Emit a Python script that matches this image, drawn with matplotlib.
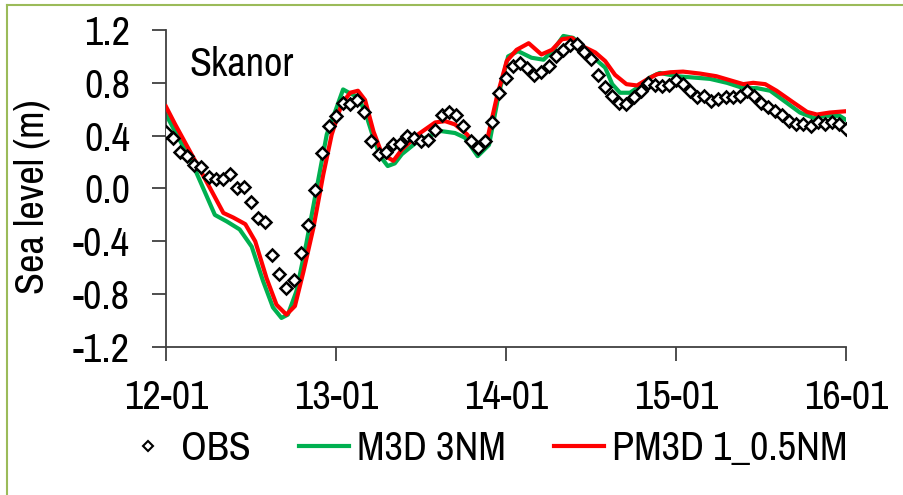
import matplotlib
matplotlib.use("Agg")
import matplotlib.pyplot as plt
from matplotlib.lines import Line2D
import numpy as np

# --- data -------------------------------------------------------------
station = "Skanor"
date_labels = ["12-01", "13-01", "14-01", "15-01", "16-01"]

# hourly observed sea level (m), hour 0 = 12-01 00:00
obs_hours = np.arange(0, 97)
obs_level = [
    0.43, 0.38, 0.28, 0.245, 0.18, 0.16, 0.09, 0.07, 0.075, 0.11,
    0.005, 0.01, -0.10, -0.22, -0.25, -0.50, -0.65, -0.75, -0.69, -0.49,
    -0.28, -0.01, 0.265, 0.47, 0.55, 0.65, 0.64, 0.67, 0.58, 0.36,
    0.26, 0.28, 0.34, 0.34, 0.40, 0.38, 0.36, 0.37, 0.44, 0.555,
    0.58, 0.555, 0.47, 0.36, 0.31, 0.36, 0.50, 0.72, 0.84, 0.93,
    0.95, 0.91, 0.86, 0.88, 0.93, 1.00, 1.05, 1.09, 1.095, 1.035,
    0.98, 0.86, 0.77, 0.70, 0.65, 0.64, 0.69, 0.74, 0.80, 0.78,
    0.775, 0.78, 0.825, 0.79, 0.74, 0.69, 0.70, 0.66, 0.675, 0.69,
    0.69, 0.70, 0.74, 0.70, 0.65, 0.62, 0.59, 0.555, 0.51, 0.485,
    0.485, 0.47, 0.50, 0.485, 0.50, 0.485, 0.45,
]

# M3D 3NM model
m3d_hours = [0, 3.8, 6.9, 8.6, 10.4, 12.1, 13.7, 15.1, 16.3, 17.2, 18.4,
             19.8, 21.2, 22.7, 23.9, 25, 26, 27.2, 28.3, 29.3, 30.3, 31.3,
             32.3, 33.3, 35.6, 38.8, 40.8, 42.2, 44.0, 45.6, 47, 48.3, 49.7,
             51.6, 53.3, 54.7, 56.1, 57.5, 58.9, 60.6, 62, 63, 64.1, 65.5,
             66.9, 68.3, 69.7, 72.1, 74.5, 76.8, 79.2, 81.5, 83.4, 85.3,
             87.6, 89.5, 91.4, 93.2, 95.1, 96]
m3d_level = [0.56, 0.18, -0.20, -0.25, -0.31, -0.44, -0.70, -0.90, -0.98,
             -0.955, -0.78, -0.42, -0.02, 0.41, 0.585, 0.75, 0.72, 0.69,
             0.55, 0.38, 0.24, 0.17, 0.19, 0.26, 0.36, 0.435, 0.42, 0.385,
             0.245, 0.33, 0.72, 1.00, 1.04, 0.99, 0.975, 1.05, 1.155, 1.14,
             1.065, 0.98, 0.915, 0.79, 0.725, 0.725, 0.775, 0.84, 0.875,
             0.85, 0.84, 0.83, 0.80, 0.76, 0.76, 0.74, 0.65, 0.575, 0.535,
             0.55, 0.55, 0.52]

# PM3D 1_0.5NM model
pm3d_hours = [0, 1.3, 3.9, 6.2, 8.1, 9.5, 11.2, 12.6, 14.2, 15.6, 17.0,
              18.2, 19.4, 20.8, 22.2, 23.4, 24.8, 26, 27.1, 28.1, 29.3,
              30.5, 32.1, 33.3, 35.6, 38, 39.4, 40.8, 42.5, 43.9, 45.3,
              46.7, 48.1, 49.5, 51.2, 53, 54.5, 55.9, 57.3, 58.7, 60.6, 62,
              63.4, 65, 66.5, 67.9, 69.3, 71.2, 73, 75.4, 77.7, 79.6, 81.5,
              82.9, 84.6, 86.2, 88.6, 90.5, 91.9, 93.7, 96]
pm3d_level = [0.62, 0.485, 0.23, 0.005, -0.185, -0.22, -0.27, -0.40, -0.68,
              -0.88, -0.955, -0.89, -0.63, -0.30, 0.105, 0.41, 0.64, 0.725,
              0.74, 0.67, 0.43, 0.26, 0.21, 0.295, 0.41, 0.50, 0.51, 0.485,
              0.41, 0.31, 0.36, 0.69, 0.965, 1.05, 1.10, 1.015, 1.05, 1.13,
              1.14, 1.08, 1.03, 0.965, 0.86, 0.79, 0.78, 0.825, 0.865, 0.88,
              0.885, 0.87, 0.85, 0.82, 0.79, 0.80, 0.79, 0.74, 0.65, 0.58,
              0.56, 0.575, 0.585]

# --- style ------------------------------------------------------------
plt.rcParams["font.family"] = ["Archivo Narrow", "Roboto Condensed",
                               "Liberation Sans", "DejaVu Sans"]
FS = 29
GREEN = "#00B050"
RED = "#FF0000"
AXIS = "#404040"

fig = plt.figure(figsize=(9.04, 4.95), dpi=100)
ax = fig.add_axes([166 / 904, 1 - 347 / 495, 680 / 904, 317 / 495])

ax.plot(np.asarray(m3d_hours) / 24, m3d_level, color=GREEN, lw=3,
        label="M3D 3NM", zorder=2)
ax.plot(np.asarray(pm3d_hours) / 24, pm3d_level, color=RED, lw=3,
        label="PM3D 1_0.5NM", zorder=3)
ax.plot(obs_hours / 24, obs_level, ls="none", marker="D", ms=6.5,
        mfc="white", mec="black", mew=1.8, label="OBS", zorder=4)

ax.set_xlim(0, 4)
ax.set_ylim(-1.2, 1.2)
ax.set_xticks(range(len(date_labels)))
ax.set_xticklabels(date_labels)
ax.set_yticks(np.arange(-1.2, 1.21, 0.4))
ax.set_yticklabels([f"{v:.1f}" for v in np.arange(-1.2, 1.21, 0.4)])

for s in ("top", "right"):
    ax.spines[s].set_visible(False)
for s in ("left", "bottom"):
    ax.spines[s].set_color(AXIS)
    ax.spines[s].set_linewidth(1.3)
ax.tick_params(axis="y", direction="out", length=10, width=1.3, color=AXIS,
               labelsize=FS, pad=16)
ax.tick_params(axis="x", direction="out", length=10, width=1.3, color=AXIS,
               labelsize=FS, pad=13)

ax.set_ylabel("Sea level (m)", fontsize=FS)
ax.yaxis.set_label_coords(-0.17, 0.475)

ax.text(0.035, 0.855, station, transform=ax.transAxes, fontsize=FS,
        ha="left", va="baseline")

handles = [
    Line2D([], [], ls="none", marker="D", ms=5, mfc="white", mec="black",
           mew=1.5),
    Line2D([], [], color=GREEN, lw=3),
    Line2D([], [], color=RED, lw=3),
]
fig.legend(handles, ["OBS", "M3D 3NM", "PM3D 1_0.5NM"], loc="center",
           bbox_to_anchor=(0.537, 0.093), ncol=3, frameon=False,
           fontsize=FS, handlelength=1.24, handletextpad=0.2,
           columnspacing=1.2, borderpad=0)

# thin green frame lines along the top and left edge
frame_kw = dict(color="#9BBB59", lw=1.5, transform=fig.transFigure)
fig.add_artist(Line2D([7 / 904, 1], [1 - 5 / 495, 1 - 5 / 495], **frame_kw))
fig.add_artist(Line2D([7 / 904, 7 / 904], [0, 1 - 5 / 495], **frame_kw))

fig.savefig("out.png", dpi=100, facecolor="white")
